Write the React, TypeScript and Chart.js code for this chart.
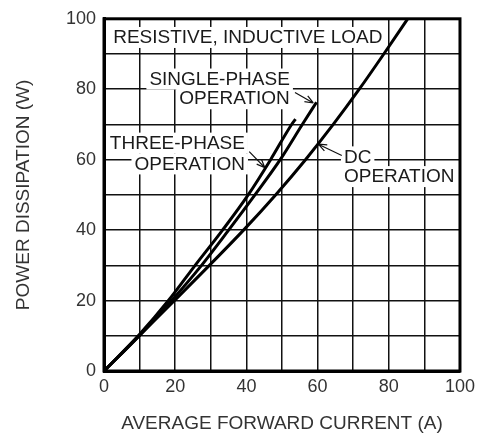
import React, { useEffect, useRef } from "react";
import { Chart, registerables } from "chart.js";

Chart.register(...registerables);

// Series data (x = average forward current A, y = power dissipation W)
const threePhaseX = [0, 10, 18.1, 25.6, 33.3, 40.5, 46.8, 52.7, 53.8];
const threePhaseY = [0, 10.4, 20, 30, 40, 50, 60, 70, 71.5];
const singlePhaseX = [0, 10, 19, 27.4, 35, 42.4, 49.5, 55.7, 59.7];
const singlePhaseY = [0, 10.1, 20, 30, 40, 50, 60, 70, 76.3];
const dcX = [0, 9.9, 19.8, 29.6, 39.2, 48.2, 56.6, 64.4, 71.7, 78.6, 85.3];
const dcY = [0, 10, 20, 30, 40, 50, 60, 70, 80, 90, 100];

const xTickValues = [0, 20, 40, 60, 80, 100];
const yTickValues = [0, 20, 40, 60, 80, 100];

const FONT = "'Liberation Sans', Arial, Helvetica, sans-serif";

type Label = { lines: string[]; x: number; y: number[]; align: CanvasTextAlign };
const annotationLabels: Label[] = [
  { lines: ["RESISTIVE, INDUCTIVE LOAD"], x: 40.4, y: [94.7], align: "center" },
  { lines: ["SINGLE-PHASE", "OPERATION"], x: 52.2, y: [82.9, 77.3], align: "right" },
  { lines: ["THREE-PHASE", "OPERATION"], x: 39.6, y: [64.7, 58.8], align: "right" },
  { lines: ["DC", "OPERATION"], x: 67.4, y: [60.8, 55.2], align: "left" },
];

// leaders: [fromX, fromY, tipX, tipY]
const leaders: number[][] = [
  [53.65, 79.1, 58.8, 76.1],
  [40.8, 62.3, 45.2, 57.7],
  [66.8, 61.2, 60.2, 64.4],
];

function zip(xs: number[], ys: number[]) {
  return xs.map((x, i) => ({ x, y: ys[i] }));
}

const annotationPlugin = {
  id: "annotations",
  beforeDatasetsDraw(chart: any) {
    const ctx = chart.ctx as CanvasRenderingContext2D;
    const xs = chart.scales.x;
    const ys = chart.scales.y;
    ctx.save();
    ctx.font = `19px ${FONT}`;
    ctx.textBaseline = "middle";
    for (const lab of annotationLabels) {
      const px = xs.getPixelForValue(lab.x);
      lab.lines.forEach((line, i) => {
        const py = ys.getPixelForValue(lab.y[i]);
        const w = ctx.measureText(line).width;
        let left = px;
        if (lab.align === "center") left = px - w / 2;
        else if (lab.align === "right") left = px - w;
        ctx.fillStyle = "#ffffff";
        ctx.fillRect(left - 3, py - 10.5, w + 6, 21);
        ctx.fillStyle = "#1a1a1a";
        ctx.textAlign = lab.align;
        ctx.fillText(line, px, py + 0.5);
      });
    }
    ctx.strokeStyle = "#111";
    ctx.lineWidth = 1.2;
    for (const [fx, fy, tx, ty] of leaders) {
      const x1 = xs.getPixelForValue(fx);
      const y1 = ys.getPixelForValue(fy);
      const x2 = xs.getPixelForValue(tx);
      const y2 = ys.getPixelForValue(ty);
      ctx.beginPath();
      ctx.moveTo(x1, y1);
      ctx.lineTo(x2, y2);
      const ang = Math.atan2(y2 - y1, x2 - x1);
      const len = 9;
      const spread = 0.38;
      ctx.moveTo(x2, y2);
      ctx.lineTo(x2 - len * Math.cos(ang - spread), y2 - len * Math.sin(ang - spread));
      ctx.moveTo(x2, y2);
      ctx.lineTo(x2 - len * Math.cos(ang + spread), y2 - len * Math.sin(ang + spread));
      ctx.stroke();
    }
    ctx.restore();
  },
  afterDraw(chart: any) {
    const ctx = chart.ctx as CanvasRenderingContext2D;
    const a = chart.chartArea;
    ctx.save();
    ctx.strokeStyle = "#000";
    ctx.lineWidth = 3;
    ctx.strokeRect(a.left, a.top, a.right - a.left, a.bottom - a.top);
    ctx.restore();
  },
};

export default function App() {
  const ref = useRef<HTMLCanvasElement | null>(null);
  useEffect(() => {
    document.body.style.margin = "0";
    const canvas = ref.current!;
    const lineDs = (label: string, xs: number[], ys: number[]) => ({
      label,
      data: zip(xs, ys),
      showLine: true,
      borderColor: "#000",
      borderWidth: 3,
      pointRadius: 0,
      cubicInterpolationMode: "monotone" as const,
      fill: false,
    });
    const chart = new Chart(canvas, {
      type: "scatter",
      data: {
        datasets: [
          lineDs("Three-phase", threePhaseX, threePhaseY),
          lineDs("Single-phase", singlePhaseX, singlePhaseY),
          lineDs("DC", dcX, dcY),
        ],
      },
      options: {
        responsive: false,
        animation: false,
        devicePixelRatio: 1,
        layout: { padding: { left: 0, top: 15, right: 20, bottom: 0 } },
        plugins: { legend: { display: false }, tooltip: { enabled: false } },
        scales: {
          x: {
            type: "linear",
            min: 0,
            max: 100,
            afterFit: (s: any) => {
              s.height = 65;
            },
            ticks: {
              stepSize: 10,
              padding: 5,
              color: "#333",
              font: { family: FONT, size: 18 },
              maxRotation: 0,
              autoSkip: false,
              callback: (v: any) => (xTickValues.includes(Number(v)) ? String(v) : ""),
            },
            grid: { color: "#111", lineWidth: 1.5, drawTicks: false },
            border: { display: true, color: "#000", width: 3 },
            title: {
              display: true,
              text: "AVERAGE FORWARD CURRENT (A)",
              color: "#333",
              font: { family: FONT, size: 19 },
              padding: { top: 0, bottom: 1 },
            },
          },
          y: {
            type: "linear",
            min: 0,
            max: 100,
            afterFit: (s: any) => {
              s.width = 104;
            },
            ticks: {
              stepSize: 10,
              padding: 8,
              color: "#333",
              font: { family: FONT, size: 18 },
              autoSkip: false,
              callback: (v: any) => (yTickValues.includes(Number(v)) ? String(v) : ""),
            },
            grid: { color: "#111", lineWidth: 1.5, drawTicks: false },
            border: { display: true, color: "#000", width: 3 },
            title: {
              display: true,
              text: "POWER DISSIPATION (W)",
              color: "#333",
              font: { family: FONT, size: 19 },
              padding: { top: 12, bottom: 0 },
            },
          },
        },
      },
      plugins: [annotationPlugin],
    });
    return () => chart.destroy();
  }, []);
  return (
    <div style={{ position: "absolute", left: 0, top: 0, width: 480, height: 436, background: "#fff" }}>
      <canvas ref={ref} width={480} height={436} style={{ width: 480, height: 436, display: "block" }} />
    </div>
  );
}
